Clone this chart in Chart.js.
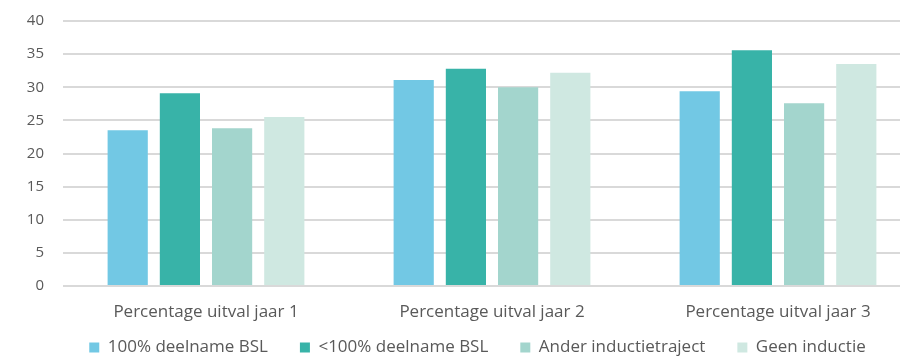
<!DOCTYPE html>
<html><head><meta charset="utf-8">
<script src="https://cdn.jsdelivr.net/npm/chart.js@4/dist/chart.umd.min.js"></script>
<style>html,body{margin:0;padding:0;overflow:hidden;background:#fff}#wrap{width:922px;height:358px;position:relative}</style>
</head><body><div id="wrap"><canvas id="c"></canvas></div>
<script>
const categories = ["Percentage uitval jaar 1", "Percentage uitval jaar 2", "Percentage uitval jaar 3"];
const seriesNames = ["100% deelname BSL", "<100% deelname BSL", "Ander inductietraject", "Geen inductie"];
const full = [23.5, 31.1, 29.4];
const partial = [29.1, 32.8, 35.6];
const other = [23.8, 30.0, 27.6];
const none = [25.5, 32.2, 33.5];
const yTicks = [0, 5, 10, 15, 20, 25, 30, 35, 40];
const colors = ["#72c8e4", "#38b3a8", "#a3d5cd", "#cfe8e1"];
const values = [full, partial, other, none];

const font = "'Open Sans', Lato, sans-serif";
const legendShift = {
  id: 'legendShift',
  afterLayout(chart) {
    const lg = chart.legend;
    lg.top = 307; lg.bottom = chart.height; lg.height = lg.bottom - lg.top;
    lg.left += 17; lg.right += 17;
  }
};
new Chart(document.getElementById('c'), {
  type: 'bar',
  data: {
    labels: categories,
    datasets: seriesNames.map((n, i) => ({
      label: n, data: values[i], backgroundColor: colors[i],
      barPercentage: 0.77, categoryPercentage: 0.73
    }))
  },
  options: {
    responsive: true, maintainAspectRatio: false, animation: false,
    layout: { padding: { top: 21, right: 1, left: 0, bottom: 0 } },
    plugins: {
      tooltip: { enabled: false },
      legend: {
        position: 'bottom',
        maxHeight: 32,
        labels: { boxWidth: 10, boxHeight: 10, padding: 32, color: '#595959', font: { family: font, size: 17 } }
      }
    },
    scales: {
      x: {
        afterFit: s => { s.height = 40; },
        grid: { display: false, drawTicks: false },
        border: { display: false },
        ticks: { color: '#595959', font: { family: font, size: 17 }, padding: 16 }
      },
      y: {
        min: 0, max: 40,
        afterFit: s => { s.width = 63; s.paddingTop = 0; s.paddingBottom = 0; },
        afterBuildTicks: s => { s.ticks = yTicks.map(v => ({ value: v })); },
        grid: { color: '#d9d9d9', lineWidth: 2, drawTicks: false },
        border: { display: false },
        ticks: { color: '#595959', font: { family: font, size: 15 }, padding: 19 }
      }
    }
  },
  plugins: [legendShift]
});
</script></body></html>
